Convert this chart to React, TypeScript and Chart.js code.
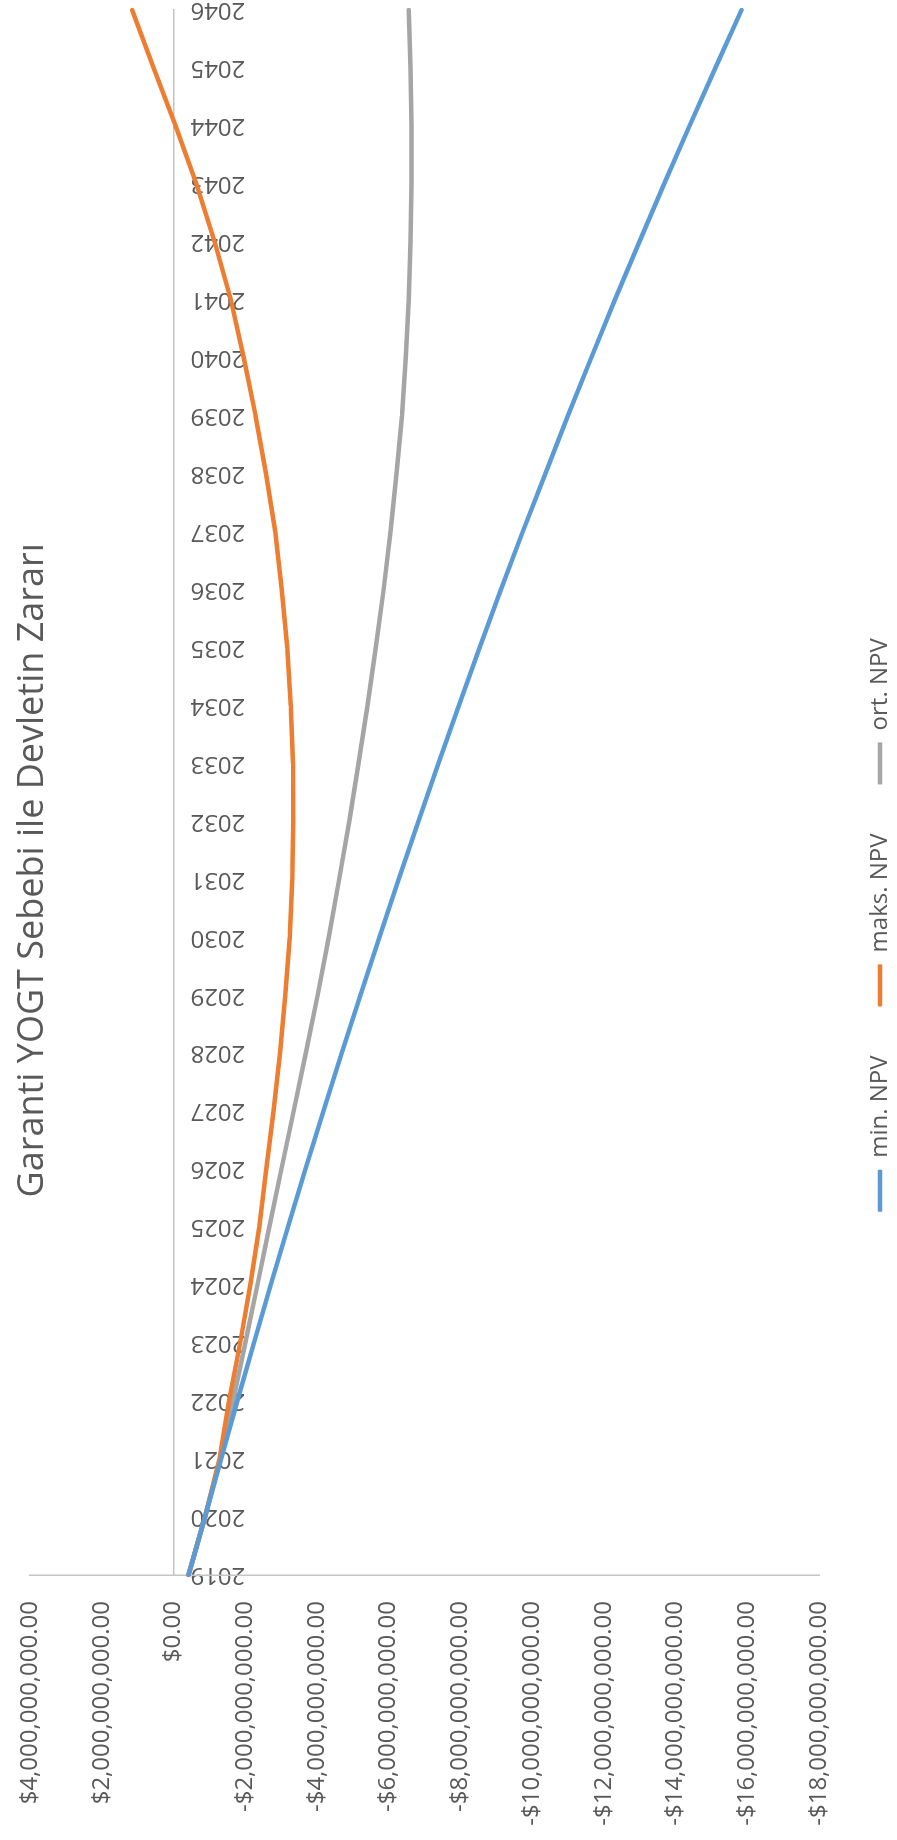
import React, { useEffect, useRef } from "react";
import { Chart, registerables } from "chart.js";

Chart.register(...registerables);

// ---- data (NPV values in billions of dollars) ----
const CHART_TITLE = "Garanti YOGT Sebebi ile Devletin Zararı";

const years = [
  "2019", "2020", "2021", "2022", "2023", "2024", "2025", "2026", "2027", "2028",
  "2029", "2030", "2031", "2032", "2033", "2034", "2035", "2036", "2037", "2038",
  "2039", "2040", "2041", "2042", "2043", "2044", "2045", "2046",
];

const minNpv = [
  -0.42, -0.88, -1.33, -1.78, -2.24, -2.71, -3.19, -3.68, -4.18, -4.69,
  -5.21, -5.74, -6.28, -6.83, -7.39, -7.96, -8.54, -9.13, -9.74, -10.37,
  -11.00, -11.65, -12.31, -12.99, -13.68, -14.39, -15.11, -15.84,
];

const maxNpv = [
  -0.42, -0.88, -1.28, -1.55, -1.86, -2.14, -2.39, -2.59, -2.79, -2.97,
  -3.12, -3.24, -3.31, -3.34, -3.33, -3.27, -3.17, -3.02, -2.84, -2.58,
  -2.29, -1.96, -1.60, -1.15, -0.64, -0.06, 0.55, 1.15,
];

const avgNpv = [
  -0.42, -0.88, -1.30, -1.66, -2.00, -2.34, -2.67, -3.01, -3.35, -3.69,
  -4.02, -4.33, -4.62, -4.90, -5.16, -5.41, -5.64, -5.86, -6.05, -6.22,
  -6.37, -6.48, -6.56, -6.61, -6.64, -6.64, -6.61, -6.56,
];

const seriesNames = ["min. NPV", "maks. NPV", "ort. NPV"];
const seriesColors = ["#5B9BD5", "#ED7D31", "#A5A5A5"];

const BILLION = 1e9;
const valueAxisMin = -18 * BILLION;
const valueAxisMax = 4 * BILLION;
const valueAxisStep = 2 * BILLION;

// ---- styling ----
const FONT = '"Open Sans", "Noto Sans", "DejaVu Sans", sans-serif';
const TEXT_COLOR = "#595959";
const AXIS_COLOR = "#C4C4C4";
const W = 1840;
const H = 897;

function formatCurrency(value: number): string {
  const rounded = Math.round(value);
  const digits = Math.abs(rounded)
    .toFixed(2)
    .replace(/\B(?=(\d{3})+(?!\d))/g, ",");
  return (rounded < 0 ? "-$" : "$") + digits;
}

// Title drawn over the top of the plot area (it does not take layout space).
const overlayTitle = {
  id: "overlayTitle",
  afterDraw(chart: any) {
    const { ctx } = chart;
    ctx.save();
    ctx.font = `36px ${FONT}`;
    ctx.fillStyle = TEXT_COLOR;
    ctx.textAlign = "center";
    ctx.textBaseline = "middle";
    ctx.fillText(CHART_TITLE, chart.width * 0.527, 33);
    ctx.restore();
  },
};

export default function App() {
  const canvasRef = useRef<HTMLCanvasElement | null>(null);

  useEffect(() => {
    const canvas = canvasRef.current;
    if (!canvas) return;
    const values = [minNpv, maxNpv, avgNpv];
    const chart = new Chart(canvas, {
      type: "line",
      data: {
        labels: years,
        datasets: seriesNames.map((name, i) => ({
          label: name,
          data: values[i].map((v) => v * BILLION),
          borderColor: seriesColors[i],
          backgroundColor: seriesColors[i],
          borderWidth: 4.5,
          pointRadius: 0,
          pointHoverRadius: 0,
          tension: 0,
          fill: false,
          borderJoinStyle: "round",
          borderCapStyle: "round",
        })),
      },
      options: {
        responsive: false,
        animation: false,
        devicePixelRatio: 1,
        layout: { padding: { left: 0, top: 30, right: 10, bottom: -5 } },
        plugins: {
          title: { display: false },
          tooltip: { enabled: false },
          legend: {
            display: true,
            position: "bottom",
            labels: {
              usePointStyle: true,
              pointStyle: "line",
              pointStyleWidth: 42,
              color: TEXT_COLOR,
              padding: 49,
              font: { family: FONT, size: 24 },
            },
          },
        },
        scales: {
          x: {
            type: "category",
            position: { y: 0 },
            offset: false,
            grid: { display: false, drawTicks: false },
            border: { display: true, color: AXIS_COLOR, width: 1.5 },
            afterFit: (scale: any) => {
              scale.paddingLeft = 0;
              scale.paddingRight = 0;
            },
            ticks: {
              autoSkip: false,
              minRotation: 90,
              maxRotation: 90,
              padding: 17,
              color: TEXT_COLOR,
              font: { family: FONT, size: 24 },
            },
          },
          y: {
            type: "linear",
            position: "left",
            min: valueAxisMin,
            max: valueAxisMax,
            grid: { display: false, drawTicks: false },
            border: { display: true, color: AXIS_COLOR, width: 1.5 },
            afterFit: (scale: any) => {
              scale.width = 265;
              scale.paddingTop = 0;
              scale.paddingBottom = 0;
            },
            ticks: {
              stepSize: valueAxisStep,
              padding: 26,
              color: TEXT_COLOR,
              font: { family: FONT, size: 24 },
              callback: (value: any) => formatCurrency(Number(value)),
            },
          },
        },
      },
      plugins: [overlayTitle],
    } as any);
    return () => chart.destroy();
  }, []);

  return (
    <div
      style={{
        position: "fixed",
        left: 0,
        top: 0,
        width: W,
        height: H,
        background: "#ffffff",
        transformOrigin: "0 0",
        transform: `translate(0px, ${W}px) rotate(-90deg)`,
      }}
    >
      <canvas ref={canvasRef} width={W} height={H} style={{ display: "block", width: W, height: H }} />
    </div>
  );
}
